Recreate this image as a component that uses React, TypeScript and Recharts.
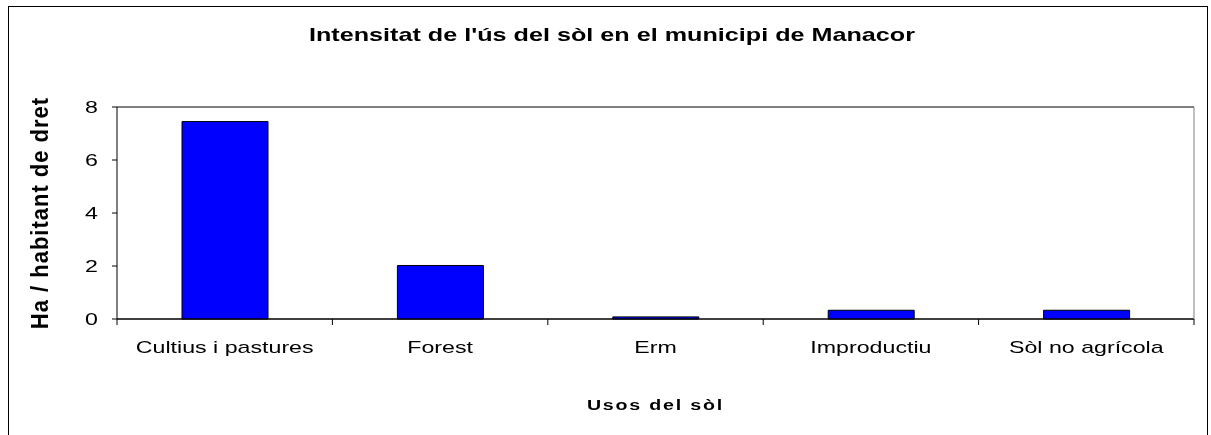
import React from "react";
import {
  Bar,
  BarChart,
  CartesianGrid,
  XAxis,
  YAxis,
} from "recharts";

const categories = [
  "Cultius i pastures",
  "Forest",
  "Erm",
  "Improductiu",
  "Sòl no agrícola",
];
const haPerResident = [7.45, 2.02, 0.08, 0.33, 0.33];
const yTicks = [0, 2, 4, 6, 8];

const title = "Intensitat de l'ús del sòl en el municipi de Manacor";
const xTitle = "Usos del sòl";
const yTitle = "Ha / habitant de dret";

const data = categories.map((name, i) => ({ name, value: haPerResident[i] }));

const FONT = '"Liberation Sans", Arial, sans-serif';
const W = 1200;
const H = 429;
const M = { top: 101, left: 39, right: 13, bottom: 16 };
const plotW = W - M.left - 70 - M.right - 1;
const band = plotW / categories.length;

// Excel output is stretched sideways; mimic with a horizontal scale
function SText({ x, y, size, bold, anchor = "middle", sx = 1.4, ls = 0, rot = false, children }: any) {
  return (
    <text
      transform={`translate(${x},${y}) scale(${sx},1)${rot ? " rotate(-90)" : ""}`}
      fontFamily={FONT}
      fontSize={size}
      fontWeight={bold ? 700 : 400}
      letterSpacing={ls}
      textAnchor={anchor}
      fill="#000"
    >
      {children}
    </text>
  );
}

function CatTick(props: any) {
  const { x, y, payload, index } = props;
  return (
    <g>
      {index === 0 && (
        <line x1={x - band / 2} x2={x - band / 2} y1={y} y2={y + 6} stroke="#000" />
      )}
      <line x1={x + band / 2} x2={x + band / 2} y1={y} y2={y + 6} stroke="#000" />
      <SText x={x} y={y + 34} size={16} sx={1.45}>
        {payload.value}
      </SText>
    </g>
  );
}

function ValTick(props: any) {
  const { x, y, payload } = props;
  return (
    <SText x={x} y={y + 6} size={16} anchor="end" sx={1.45}>
      {payload.value}
    </SText>
  );
}

export default function App() {
  // fixed so the frame can run past the window edge without scrollbars
  return (
    <div
      style={{
        position: "fixed",
        left: 8,
        top: 6,
        width: W,
        height: H + 20,
        border: "1px solid #000",
        boxSizing: "border-box",
      }}
    >
      <svg
        width={W}
        height={60}
        style={{ position: "absolute", left: -1, top: -1 }}
      >
        <SText x={604} y={35} size={18} bold sx={1.4}>
          {title}
        </SText>
      </svg>
      <div style={{ position: "absolute", left: -1, top: -1 }}>
        <BarChart width={W} height={H} data={data} margin={M} barSize={86}>
          <CartesianGrid vertical={false} stroke="#000" />
          <XAxis
            dataKey="name"
            stroke="#000"
            tickLine={false}
            tickSize={0}
            tickMargin={0}
            height={100}
            interval={0}
            tick={<CatTick />}
            label={{
              content: ({ viewBox }: any) => (
                <SText
                  x={viewBox.x + viewBox.width / 2}
                  y={viewBox.y + 91}
                  size={14}
                  bold
                  ls={1.3}
                >
                  {xTitle}
                </SText>
              ),
            }}
          />
          <YAxis
            yAxisId="l"
            domain={[0, 8]}
            ticks={yTicks}
            width={70}
            stroke="#000"
            tickSize={5}
            tickMargin={14}
            tick={<ValTick />}
            label={{
              content: ({ viewBox }: any) => (
                <SText
                  x={viewBox.x + 1}
                  y={viewBox.y + viewBox.height / 2}
                  size={22}
                  bold
                  sx={1.1}
                  ls={1}
                  rot
                >
                  {yTitle}
                </SText>
              ),
            }}
          />
          <YAxis
            yAxisId="r"
            orientation="right"
            domain={[0, 8]}
            width={1}
            stroke="#808080"
            tick={false}
            tickLine={false}
          />
          <Bar
            yAxisId="l"
            dataKey="value"
            fill="#0000FF"
            stroke="#000"
            strokeWidth={1}
            isAnimationActive={false}
          />
        </BarChart>
      </div>
    </div>
  );
}
